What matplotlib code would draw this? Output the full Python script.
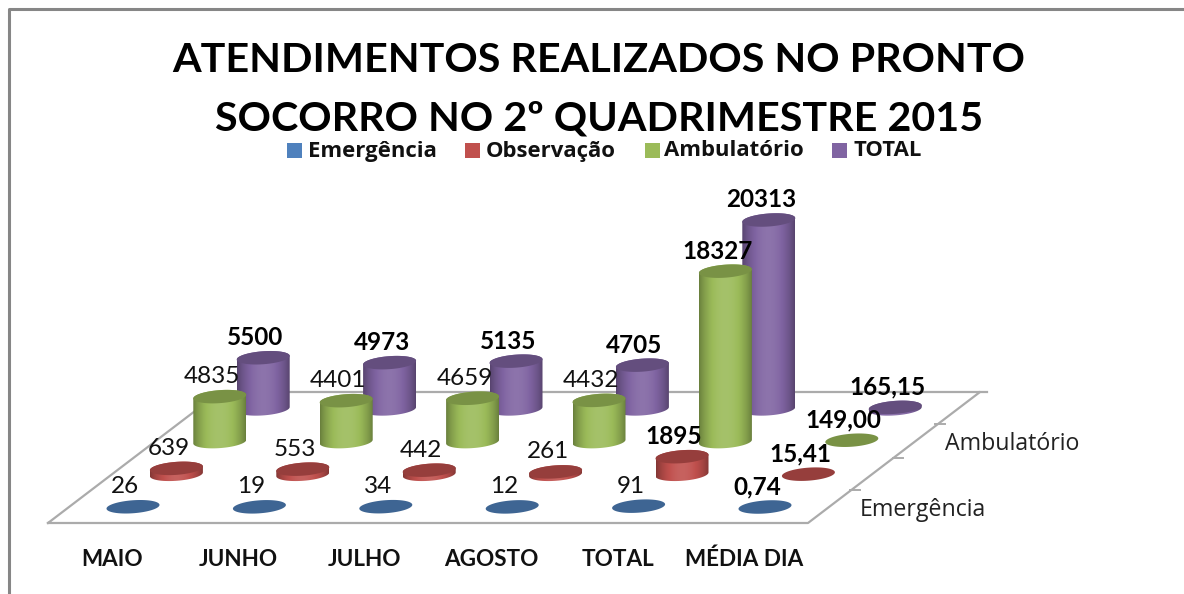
import numpy as np
import matplotlib
matplotlib.use('Agg')
import matplotlib.pyplot as plt
from matplotlib.path import Path
from matplotlib.patches import PathPatch, Rectangle
from matplotlib.colors import to_rgb

titulo = 'ATENDIMENTOS REALIZADOS NO PRONTO\nSOCORRO NO 2º QUADRIMESTRE 2015'
meses = ['MAIO', 'JUNHO', 'JULHO', 'AGOSTO', 'TOTAL', 'MÉDIA DIA']
series = ['Emergência', 'Observação', 'Ambulatório', 'TOTAL']
emergencia = [26, 19, 34, 12, 91, 0.74]
observacao = [639, 553, 442, 261, 1895, 15.41]
ambulatorio = [4835, 4401, 4659, 4432, 18327, 149.00]
total = [5500, 4973, 5135, 4705, 20313, 165.15]
cores = ['#4F81BD', '#C0504D', '#9BBB59', '#8064A2']

# geometria da "perspectiva" em pixels
X0, Y0 = 133, 507
DX_CAT = 126.4
DX_SER, DY_SER = 43.4, -32.7
K_VAL = 0.0093
RX, RY = 26.5, 6.5
TILT = -0.07


def proj(c, s, v=0):
    return X0 + DX_CAT*c + DX_SER*s, Y0 + DY_SER*s - K_VAL*v


def elipse(cx, cy, t):
    return cx + RX*np.cos(t), cy + RY*np.sin(t) + TILT*RX*np.cos(t)


def mistura(cor, f):
    # f<1 escurece, f>1 clareia
    c = np.array(to_rgb(cor))
    if f <= 1:
        return c*f
    return c + (1-c)*(f-1)


def cilindro(ax, c, s, v, cor, z):
    xb, yb = proj(c, s)
    xt, yt = proj(c, s, v)
    if yb - yt > 1.5:
        t1 = np.linspace(0, np.pi, 40)
        t2 = np.linspace(np.pi, 2*np.pi, 40)
        xa, ya = elipse(xb, yb, t1)
        xd, yd = elipse(xt, yt, t2)
        pts = np.column_stack([np.r_[xa, xd], np.r_[ya, yd]])
        corpo = PathPatch(Path(np.vstack([pts, pts[0]]), closed=True), fc='none', ec='none', zorder=z)
        ax.add_patch(corpo)
        u = np.linspace(0, 1, 64)
        f = 0.68 + 0.42*np.sin(np.pi*u)**0.8
        grad = np.array([[mistura(cor, a) for a in f]])
        im = ax.imshow(grad, extent=[xb-RX, xb+RX, yb+RY+3, yt-RY-3], aspect='auto', zorder=z, interpolation='bilinear')
        im.set_clip_path(corpo)
    xe, ye = elipse(xt, yt, np.linspace(0, 2*np.pi, 80))
    ax.fill(xe, ye, fc=mistura(cor, 0.78), ec='none', zorder=z+0.1)


fig = plt.figure(figsize=(11.84, 5.94), dpi=100)
ax = fig.add_axes([0, 0, 1, 1])
ax.set_xlim(0, 1184)
ax.set_ylim(594, 0)
ax.axis('off')

# moldura
ax.plot([9, 9, 1184], [594, 9, 9], color='#868686', lw=2.2, zorder=1)

# piso
cinza = '#ABABAB'
ax.plot([48, 808, 980, 220, 48], [523, 523, 392, 392, 523], color=cinza, lw=1.6, zorder=2)
ax.plot([980, 987], [392, 392], color=cinza, lw=1.6, zorder=2)
for xt, yt in [(940, 424), (898, 458), (855, 490)]:
    ax.plot([xt-5, xt+5], [yt, yt], color=cinza, lw=1.4, zorder=2)

valores = [emergencia, observacao, ambulatorio, total]
z = 3
for s in range(3, -1, -1):
    for c in range(len(meses)):
        cilindro(ax, c, s, valores[s][c], cores[s], z)
        z += 1

# rotulos de dados
for s in range(4):
    for c in range(len(meses)):
        v = valores[s][c]
        x, y = proj(c, s, v)
        txt = f'{v:.2f}'.replace('.', ',') if c == 5 else str(v)
        negrito = s == 3 or c == 5 or (c == 4 and s > 0)
        ax.text(x-8, y-20, txt, ha='center', va='center', fontsize=17.5, family='Lato',
                fontweight='bold' if negrito else 'normal', color='black' if negrito else '#111111', zorder=200)

# eixos
for c, m in enumerate(meses):
    ax.text(112 + DX_CAT*c, 559.5, m, ha='center', va='center', fontsize=16.2, family='Lato',
            fontweight='bold', color='#111111', zorder=200)
ax.text(945, 444, 'Ambulatório', ha='left', va='center', fontsize=16.7, family='Open Sans', color='#222222')
ax.text(860, 510, 'Emergência', ha='left', va='center', fontsize=16.7, family='Open Sans', color='#222222')

# titulo
ax.text(599, 60, titulo.split('\n')[0], ha='center', va='center', fontsize=29.7, family='Lato', fontweight='bold', color='black')
ax.text(599, 119, titulo.split('\n')[1], ha='center', va='center', fontsize=29.7, family='Lato', fontweight='bold', color='black')

# legenda
leg_q = [287, 465, 645, 832]
leg_t = [308, 486, 664, 854]
for q, t, nome, cor in zip(leg_q, leg_t, series, cores):
    ax.add_patch(Rectangle((q, 142.5), 15, 15, fc=cor, ec='none'))
    ax.text(t, 151, nome, ha='left', va='center', fontsize=15.9, family='Open Sans', fontweight='bold', color='#111111')

fig.savefig('out.png', dpi=100)
